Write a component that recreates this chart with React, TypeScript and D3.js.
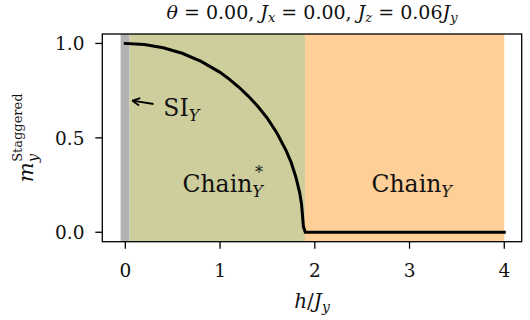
import React from "react";
import * as d3 from "d3";

// Staggered magnetisation along y versus field h/J_y
const hValues = [0, 0.2, 0.4, 0.6, 0.8, 1.0, 1.1, 1.2, 1.3, 1.4, 1.5, 1.6, 1.7, 1.75, 1.8, 1.84, 1.86, 1.88, 1.9, 2.0, 2.5, 3.0, 3.5, 4.0];
const mValues = [1.0, 0.994, 0.977, 0.948, 0.905, 0.847, 0.81, 0.768, 0.72, 0.666, 0.603, 0.526, 0.43, 0.37, 0.293, 0.21, 0.15, 0.03, 0.0, 0.0, 0.0, 0.0, 0.0, 0.0];

// Phase regions along h
const phaseNames = ["SI", "ChainStar", "Chain"];
const phaseStart = [-0.05, 0.045, 1.897];
const phaseEnd = [0.045, 1.897, 4.0];
const phaseColors = ["#b3b3b3", "#cdce9c", "#fecf97"];

const xTicks = [0, 1, 2, 3, 4];
const yTicks = [0.0, 0.5, 1.0];
const yTickLabels = ["0.0", "0.5", "1.0"];

const W = 530;
const H = 320;
const left = 102.3;
const right = 521.7;
const top = 34;
const bottom = 241.7;

const FONT = "DejaVu Serif";

export default function App() {
  const x = d3.scaleLinear().domain([-0.243, 4.184]).range([left, right]);
  const y = d3.scaleLinear().domain([-0.05, 1.05]).range([bottom, top]);

  const pts: [number, number][] = hValues.map((h, i) => [h, mValues[i]]);
  const line = d3
    .line<[number, number]>()
    .x((d) => x(d[0]))
    .y((d) => y(d[1]));

  const tickLen = 7;

  return (
    <svg width={W} height={H} style={{ position: "absolute", left: 0, top: 0, background: "#fff", fontFamily: FONT }}>
      <defs>
        <marker id="chev" viewBox="0 0 10 10" refX="9" refY="5" markerWidth="9" markerHeight="9" markerUnits="userSpaceOnUse" orient="auto">
          <path d="M1,0.8 L9,5 L1,9.2" fill="none" stroke="#000" strokeWidth={2} />
        </marker>
      </defs>

      {/* phase regions */}
      {phaseNames.map((p, i) => (
        <rect
          key={p}
          x={x(phaseStart[i])}
          y={top}
          width={x(phaseEnd[i]) - x(phaseStart[i])}
          height={bottom - top}
          fill={phaseColors[i]}
        />
      ))}

      {/* magnetisation curve */}
      <path d={line(pts) || ""} fill="none" stroke="#000" strokeWidth={3} strokeLinecap="square" strokeLinejoin="miter" />

      {/* region labels */}
      <text x={182.5} y={191.7} fontSize={23.5} fill="#111">
        Chain
        <tspan fontStyle="italic" fontSize={16} dy={5}>Y</tspan>
      </text>
      <text x={255} y={178} fontSize={16} fill="#111">*</text>
      <text x={371.5} y={191.7} fontSize={23.5} fill="#111">
        Chain
        <tspan fontStyle="italic" fontSize={16} dy={5}>Y</tspan>
      </text>
      <text x={163.3} y={116} fontSize={23.5} fill="#111">
        SI
        <tspan fontStyle="italic" fontSize={16} dy={5}>Y</tspan>
      </text>
      <line x1={153.5} y1={104} x2={132.5} y2={100.7} stroke="#000" strokeWidth={1.8} markerEnd="url(#chev)" />

      {/* spines */}
      <rect x={left} y={top} width={right - left} height={bottom - top} fill="none" stroke="#000" strokeWidth={1.3} />

      {/* x axis */}
      {xTicks.map((t) => (
        <g key={`xt${t}`}>
          <line x1={x(t)} x2={x(t)} y1={bottom} y2={bottom + tickLen} stroke="#000" strokeWidth={1.3} />
          <text x={x(t)} y={276.5} fontSize={18.5} textAnchor="middle" fill="#111">
            {t}
          </text>
        </g>
      ))}

      {/* y axis */}
      {yTicks.map((t, i) => (
        <g key={`yt${t}`}>
          <line x1={left - tickLen} x2={left} y1={y(t)} y2={y(t)} stroke="#000" strokeWidth={1.3} />
          <text x={84.5} y={y(t) + 7} fontSize={18.5} textAnchor="end" fill="#111">
            {yTickLabels[i]}
          </text>
        </g>
      ))}

      {/* axis labels */}
      <text x={(left + right) / 2} y={308} fontSize={20} textAnchor="middle" fill="#111">
        <tspan fontStyle="italic">h</tspan>/<tspan fontStyle="italic">J</tspan>
        <tspan fontStyle="italic" fontSize={14} dy={4}>y</tspan>
      </text>
      <text transform={`translate(33,${(top + bottom) / 2}) rotate(-90)`} textAnchor="middle" fontSize={21} fill="#111">
        <tspan fontStyle="italic">m</tspan>
        <tspan fontStyle="italic" fontSize={15} dy={5}>y</tspan>
        <tspan fontSize={13} dx={-8} dy={-16}>Staggered</tspan>
      </text>

      {/* title */}
      <text x={(left + right) / 2} y={19} fontSize={19} textAnchor="middle" fill="#111">
        <tspan fontStyle="italic">θ</tspan> = 0.00, <tspan fontStyle="italic">J</tspan>
        <tspan fontStyle="italic" fontSize={13} dy={3}>x</tspan>
        <tspan dy={-3}> = 0.00, </tspan>
        <tspan fontStyle="italic">J</tspan>
        <tspan fontStyle="italic" fontSize={13} dy={3}>z</tspan>
        <tspan dy={-3}> = 0.06</tspan>
        <tspan fontStyle="italic">J</tspan>
        <tspan fontStyle="italic" fontSize={13} dy={3}>y</tspan>
      </text>
    </svg>
  );
}
